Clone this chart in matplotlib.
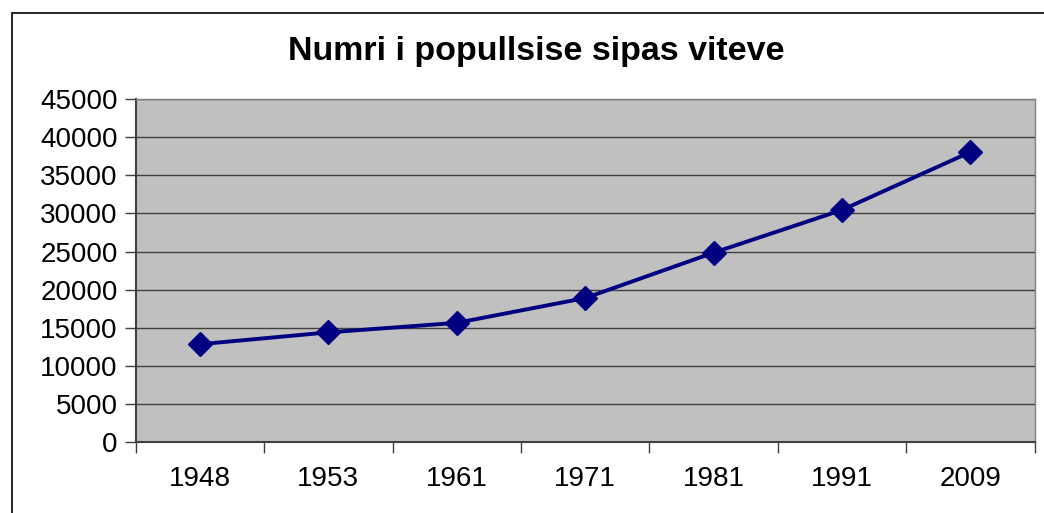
import matplotlib
matplotlib.use('Agg')
import matplotlib.pyplot as plt
from matplotlib.patches import Rectangle

# data
years = ['1948', '1953', '1961', '1971', '1981', '1991', '2009']
population = [12850, 14400, 15650, 18900, 24850, 30450, 38050]

plt.rcParams['font.family'] = ['Liberation Sans', 'DejaVu Sans']

fig = plt.figure(figsize=(10.44, 5.13), dpi=100)
ax = fig.add_axes([0.130, 0.138, 0.861, 0.669])

# outer chart frame
fig.patches.append(Rectangle((0.0115, -0.1), 1.2, 1.075, transform=fig.transFigure,
                             fill=False, edgecolor='black', linewidth=1.2))

ax.set_facecolor('#C0C0C0')
x = list(range(len(years)))
ax.plot(x, population, color='#000080', linewidth=2.8, marker='D',
        markersize=12, markerfacecolor='#000080', markeredgecolor='#000080', zorder=3)

ax.set_ylim(0, 45000)
ax.set_yticks(range(0, 45001, 5000))
ax.set_xlim(-0.5, len(years) - 0.5)
ax.set_xticks([i - 0.5 for i in range(len(years) + 1)])
ax.set_xticklabels([])
ax.set_xticks(x, minor=True)
ax.set_xticklabels(years, minor=True)
ax.tick_params(axis='x', which='minor', length=0, pad=17, labelsize=20)
ax.tick_params(axis='x', which='major', length=8, width=1, color='#404040', direction='out')
ax.tick_params(axis='y', length=8, width=1, color='#404040', labelsize=20, pad=5)

ax.grid(axis='y', color='#404040', linewidth=1)
ax.set_axisbelow(True)
for s in ['top', 'right']:
    ax.spines[s].set_color('#808080')
    ax.spines[s].set_linewidth(1)
for s in ['left', 'bottom']:
    ax.spines[s].set_color('#404040')
    ax.spines[s].set_linewidth(1.5)

fig.text(0.514, 0.9, 'Numri i popullsise sipas viteve', ha='center', va='center',
         fontsize=24.5, fontweight='bold')

fig.savefig('out.png', dpi=100)
